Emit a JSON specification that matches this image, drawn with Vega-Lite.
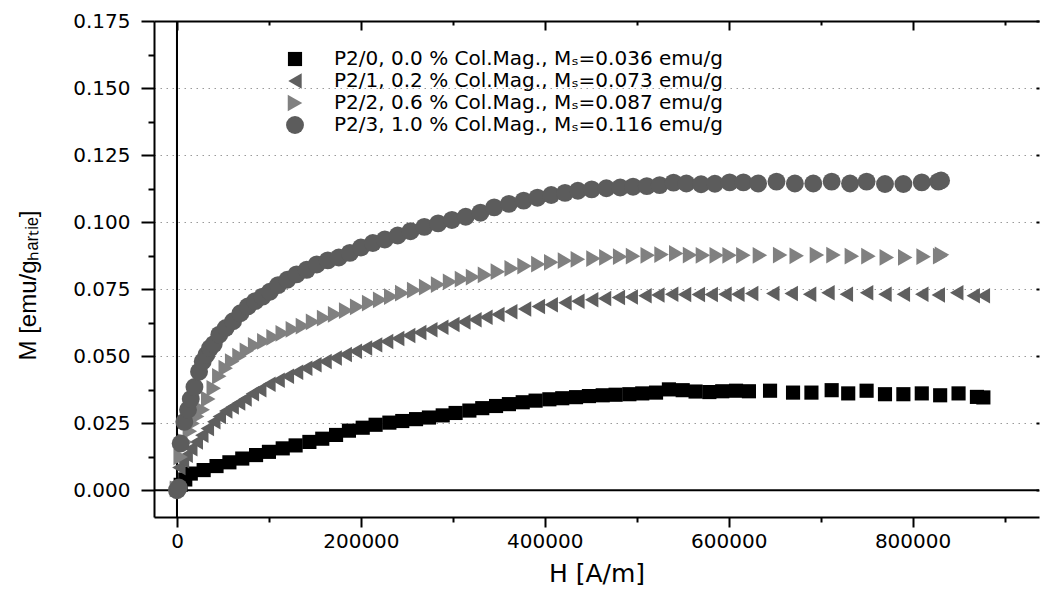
{
"$schema": "https://vega.github.io/schema/vega-lite/v6.json",
"width": 885, "height": 496,
"autosize": "none",
"padding": {"left": 154, "top": 21, "right": 1, "bottom": 73},
"background": "white",
"config": {
  "view": {"stroke": null},
  "axis": {"labelFont": "DejaVu Sans", "labelFontSize": 20, "labelColor": "black", "tickColor": "black", "tickWidth": 2, "domain": false, "domainColor": "black", "domainWidth": 2, "titleFont": "DejaVu Sans", "titleColor": "black", "titleFontWeight": "normal", "grid": false}
},
"data": {"values": [
{"s":"P2/0","H":0,"M":0.0005},{"s":"P2/0","H":4000,"M":0.002},{"s":"P2/0","H":9000,"M":0.004},{"s":"P2/0","H":15000,"M":0.0062},{"s":"P2/0","H":29000,"M":0.0075},{"s":"P2/0","H":43000,"M":0.009},{"s":"P2/0","H":57000,"M":0.0104},{"s":"P2/0","H":71000,"M":0.0118},{"s":"P2/0","H":86000,"M":0.0131},{"s":"P2/0","H":100000,"M":0.0143},{"s":"P2/0","H":115000,"M":0.0156},{"s":"P2/0","H":129000,"M":0.0167},{"s":"P2/0","H":144000,"M":0.018},{"s":"P2/0","H":158000,"M":0.0192},{"s":"P2/0","H":173000,"M":0.0206},{"s":"P2/0","H":187000,"M":0.0222},{"s":"P2/0","H":202000,"M":0.0233},{"s":"P2/0","H":216000,"M":0.0244},{"s":"P2/0","H":231000,"M":0.0252},{"s":"P2/0","H":245000,"M":0.0258},{"s":"P2/0","H":260000,"M":0.0265},{"s":"P2/0","H":274000,"M":0.0271},{"s":"P2/0","H":289000,"M":0.0279},{"s":"P2/0","H":303000,"M":0.0288},{"s":"P2/0","H":318000,"M":0.0297},{"s":"P2/0","H":332000,"M":0.0306},{"s":"P2/0","H":347000,"M":0.0314},{"s":"P2/0","H":361000,"M":0.0321},{"s":"P2/0","H":376000,"M":0.0328},{"s":"P2/0","H":390000,"M":0.0334},{"s":"P2/0","H":405000,"M":0.0339},{"s":"P2/0","H":419000,"M":0.0343},{"s":"P2/0","H":434000,"M":0.0347},{"s":"P2/0","H":448000,"M":0.0351},{"s":"P2/0","H":463000,"M":0.0354},{"s":"P2/0","H":477000,"M":0.0356},{"s":"P2/0","H":492000,"M":0.0358},{"s":"P2/0","H":506000,"M":0.0361},{"s":"P2/0","H":521000,"M":0.0364},{"s":"P2/0","H":535000,"M":0.0376},{"s":"P2/0","H":550000,"M":0.0373},{"s":"P2/0","H":564000,"M":0.0368},{"s":"P2/0","H":579000,"M":0.0366},{"s":"P2/0","H":593000,"M":0.0369},{"s":"P2/0","H":608000,"M":0.0371},{"s":"P2/0","H":622000,"M":0.0369},{"s":"P2/0","H":645000,"M":0.0371},{"s":"P2/0","H":670000,"M":0.0364},{"s":"P2/0","H":690000,"M":0.0364},{"s":"P2/0","H":712000,"M":0.0373},{"s":"P2/0","H":730000,"M":0.0361},{"s":"P2/0","H":750000,"M":0.0371},{"s":"P2/0","H":770000,"M":0.0358},{"s":"P2/0","H":790000,"M":0.0358},{"s":"P2/0","H":810000,"M":0.0361},{"s":"P2/0","H":830000,"M":0.0354},{"s":"P2/0","H":850000,"M":0.0361},{"s":"P2/0","H":870000,"M":0.0348},{"s":"P2/0","H":877000,"M":0.0346},
{"s":"P2/1","H":0,"M":0.0005},{"s":"P2/1","H":2000,"M":0.0085},{"s":"P2/1","H":6000,"M":0.011},{"s":"P2/1","H":10000,"M":0.013},{"s":"P2/1","H":15000,"M":0.0155},{"s":"P2/1","H":21000,"M":0.018},{"s":"P2/1","H":27000,"M":0.0205},{"s":"P2/1","H":33000,"M":0.023},{"s":"P2/1","H":40000,"M":0.0255},{"s":"P2/1","H":46000,"M":0.0275},{"s":"P2/1","H":53000,"M":0.0295},{"s":"P2/1","H":60000,"M":0.031},{"s":"P2/1","H":67000,"M":0.0325},{"s":"P2/1","H":74000,"M":0.034},{"s":"P2/1","H":82000,"M":0.036},{"s":"P2/1","H":90000,"M":0.0375},{"s":"P2/1","H":100000,"M":0.0395},{"s":"P2/1","H":110000,"M":0.041},{"s":"P2/1","H":120000,"M":0.0425},{"s":"P2/1","H":130000,"M":0.044},{"s":"P2/1","H":140000,"M":0.0455},{"s":"P2/1","H":150000,"M":0.0468},{"s":"P2/1","H":161000,"M":0.048},{"s":"P2/1","H":172000,"M":0.0493},{"s":"P2/1","H":183000,"M":0.0506},{"s":"P2/1","H":194000,"M":0.0518},{"s":"P2/1","H":205000,"M":0.053},{"s":"P2/1","H":216000,"M":0.0542},{"s":"P2/1","H":228000,"M":0.0555},{"s":"P2/1","H":240000,"M":0.0566},{"s":"P2/1","H":252000,"M":0.0577},{"s":"P2/1","H":264000,"M":0.0588},{"s":"P2/1","H":276000,"M":0.0598},{"s":"P2/1","H":288000,"M":0.0608},{"s":"P2/1","H":300000,"M":0.0618},{"s":"P2/1","H":312000,"M":0.0627},{"s":"P2/1","H":324000,"M":0.0636},{"s":"P2/1","H":336000,"M":0.0645},{"s":"P2/1","H":349000,"M":0.0655},{"s":"P2/1","H":363000,"M":0.0666},{"s":"P2/1","H":378000,"M":0.0676},{"s":"P2/1","H":393000,"M":0.0685},{"s":"P2/1","H":407000,"M":0.0692},{"s":"P2/1","H":422000,"M":0.0699},{"s":"P2/1","H":436000,"M":0.0705},{"s":"P2/1","H":451000,"M":0.071},{"s":"P2/1","H":465000,"M":0.0715},{"s":"P2/1","H":480000,"M":0.0719},{"s":"P2/1","H":494000,"M":0.0721},{"s":"P2/1","H":509000,"M":0.0725},{"s":"P2/1","H":523000,"M":0.0728},{"s":"P2/1","H":538000,"M":0.0731},{"s":"P2/1","H":552000,"M":0.073},{"s":"P2/1","H":567000,"M":0.073},{"s":"P2/1","H":581000,"M":0.073},{"s":"P2/1","H":596000,"M":0.0731},{"s":"P2/1","H":610000,"M":0.0731},{"s":"P2/1","H":625000,"M":0.0734},{"s":"P2/1","H":648000,"M":0.0734},{"s":"P2/1","H":668000,"M":0.0734},{"s":"P2/1","H":688000,"M":0.0731},{"s":"P2/1","H":708000,"M":0.0736},{"s":"P2/1","H":728000,"M":0.0731},{"s":"P2/1","H":750000,"M":0.0736},{"s":"P2/1","H":770000,"M":0.0731},{"s":"P2/1","H":790000,"M":0.0731},{"s":"P2/1","H":810000,"M":0.0731},{"s":"P2/1","H":828000,"M":0.0728},{"s":"P2/1","H":848000,"M":0.0736},{"s":"P2/1","H":866000,"M":0.0725},{"s":"P2/1","H":877000,"M":0.0725},
{"s":"P2/2","H":0,"M":0.0005},{"s":"P2/2","H":4000,"M":0.0124},{"s":"P2/2","H":9000,"M":0.018},{"s":"P2/2","H":14000,"M":0.022},{"s":"P2/2","H":17000,"M":0.0249},{"s":"P2/2","H":22000,"M":0.0275},{"s":"P2/2","H":28000,"M":0.03},{"s":"P2/2","H":34000,"M":0.034},{"s":"P2/2","H":40000,"M":0.038},{"s":"P2/2","H":46000,"M":0.0425},{"s":"P2/2","H":53000,"M":0.0455},{"s":"P2/2","H":60000,"M":0.048},{"s":"P2/2","H":68000,"M":0.05},{"s":"P2/2","H":76000,"M":0.052},{"s":"P2/2","H":85000,"M":0.054},{"s":"P2/2","H":95000,"M":0.0555},{"s":"P2/2","H":105000,"M":0.057},{"s":"P2/2","H":115000,"M":0.0585},{"s":"P2/2","H":126000,"M":0.06},{"s":"P2/2","H":137000,"M":0.0612},{"s":"P2/2","H":148000,"M":0.0628},{"s":"P2/2","H":160000,"M":0.0642},{"s":"P2/2","H":172000,"M":0.0656},{"s":"P2/2","H":184000,"M":0.067},{"s":"P2/2","H":196000,"M":0.0684},{"s":"P2/2","H":209000,"M":0.0698},{"s":"P2/2","H":221000,"M":0.071},{"s":"P2/2","H":233000,"M":0.0722},{"s":"P2/2","H":245000,"M":0.0735},{"s":"P2/2","H":258000,"M":0.0746},{"s":"P2/2","H":271000,"M":0.0757},{"s":"P2/2","H":284000,"M":0.0767},{"s":"P2/2","H":297000,"M":0.0777},{"s":"P2/2","H":310000,"M":0.0787},{"s":"P2/2","H":322000,"M":0.0795},{"s":"P2/2","H":335000,"M":0.0803},{"s":"P2/2","H":349000,"M":0.0815},{"s":"P2/2","H":364000,"M":0.0827},{"s":"P2/2","H":378000,"M":0.0836},{"s":"P2/2","H":393000,"M":0.0843},{"s":"P2/2","H":407000,"M":0.085},{"s":"P2/2","H":422000,"M":0.0856},{"s":"P2/2","H":436000,"M":0.0861},{"s":"P2/2","H":453000,"M":0.0864},{"s":"P2/2","H":467000,"M":0.0868},{"s":"P2/2","H":482000,"M":0.0871},{"s":"P2/2","H":496000,"M":0.0873},{"s":"P2/2","H":512000,"M":0.0876},{"s":"P2/2","H":527000,"M":0.0879},{"s":"P2/2","H":543000,"M":0.0883},{"s":"P2/2","H":558000,"M":0.0877},{"s":"P2/2","H":572000,"M":0.0876},{"s":"P2/2","H":587000,"M":0.0876},{"s":"P2/2","H":601000,"M":0.0876},{"s":"P2/2","H":616000,"M":0.0876},{"s":"P2/2","H":634000,"M":0.0876},{"s":"P2/2","H":656000,"M":0.0877},{"s":"P2/2","H":674000,"M":0.0874},{"s":"P2/2","H":696000,"M":0.0877},{"s":"P2/2","H":714000,"M":0.0877},{"s":"P2/2","H":734000,"M":0.0873},{"s":"P2/2","H":752000,"M":0.0873},{"s":"P2/2","H":772000,"M":0.0868},{"s":"P2/2","H":792000,"M":0.0868},{"s":"P2/2","H":812000,"M":0.0871},{"s":"P2/2","H":830000,"M":0.0873},{"s":"P2/2","H":832000,"M":0.0878},
{"s":"P2/3","H":0,"M":0.0},{"s":"P2/3","H":2000,"M":0.001},{"s":"P2/3","H":4000,"M":0.0174},{"s":"P2/3","H":8000,"M":0.0255},{"s":"P2/3","H":12000,"M":0.03},{"s":"P2/3","H":15000,"M":0.034},{"s":"P2/3","H":19000,"M":0.0385},{"s":"P2/3","H":24000,"M":0.0442},{"s":"P2/3","H":28000,"M":0.048},{"s":"P2/3","H":32000,"M":0.0505},{"s":"P2/3","H":36000,"M":0.053},{"s":"P2/3","H":40000,"M":0.0545},{"s":"P2/3","H":46000,"M":0.058},{"s":"P2/3","H":53000,"M":0.0605},{"s":"P2/3","H":61000,"M":0.063},{"s":"P2/3","H":69000,"M":0.066},{"s":"P2/3","H":77000,"M":0.0685},{"s":"P2/3","H":85000,"M":0.0705},{"s":"P2/3","H":93000,"M":0.0722},{"s":"P2/3","H":101000,"M":0.074},{"s":"P2/3","H":110000,"M":0.0765},{"s":"P2/3","H":120000,"M":0.0785},{"s":"P2/3","H":130000,"M":0.0805},{"s":"P2/3","H":141000,"M":0.0822},{"s":"P2/3","H":152000,"M":0.0842},{"s":"P2/3","H":164000,"M":0.0857},{"s":"P2/3","H":176000,"M":0.0868},{"s":"P2/3","H":188000,"M":0.0885},{"s":"P2/3","H":200000,"M":0.0905},{"s":"P2/3","H":213000,"M":0.0922},{"s":"P2/3","H":226000,"M":0.0935},{"s":"P2/3","H":240000,"M":0.095},{"s":"P2/3","H":254000,"M":0.0966},{"s":"P2/3","H":269000,"M":0.0982},{"s":"P2/3","H":284000,"M":0.0995},{"s":"P2/3","H":299000,"M":0.1008},{"s":"P2/3","H":314000,"M":0.102},{"s":"P2/3","H":330000,"M":0.1035},{"s":"P2/3","H":345000,"M":0.1055},{"s":"P2/3","H":361000,"M":0.1068},{"s":"P2/3","H":377000,"M":0.108},{"s":"P2/3","H":392000,"M":0.1091},{"s":"P2/3","H":407000,"M":0.1101},{"s":"P2/3","H":422000,"M":0.1109},{"s":"P2/3","H":436000,"M":0.1117},{"s":"P2/3","H":451000,"M":0.1122},{"s":"P2/3","H":467000,"M":0.1126},{"s":"P2/3","H":482000,"M":0.1129},{"s":"P2/3","H":496000,"M":0.1132},{"s":"P2/3","H":511000,"M":0.1134},{"s":"P2/3","H":525000,"M":0.1138},{"s":"P2/3","H":540000,"M":0.1147},{"s":"P2/3","H":554000,"M":0.1144},{"s":"P2/3","H":570000,"M":0.1141},{"s":"P2/3","H":585000,"M":0.1143},{"s":"P2/3","H":601000,"M":0.1148},{"s":"P2/3","H":616000,"M":0.1148},{"s":"P2/3","H":632000,"M":0.1144},{"s":"P2/3","H":652000,"M":0.1151},{"s":"P2/3","H":672000,"M":0.1144},{"s":"P2/3","H":692000,"M":0.1144},{"s":"P2/3","H":712000,"M":0.1151},{"s":"P2/3","H":732000,"M":0.1144},{"s":"P2/3","H":750000,"M":0.1151},{"s":"P2/3","H":770000,"M":0.1142},{"s":"P2/3","H":790000,"M":0.1142},{"s":"P2/3","H":810000,"M":0.1148},{"s":"P2/3","H":828000,"M":0.1151},{"s":"P2/3","H":831000,"M":0.1155}
]},
"resolve": {"scale": {"x": "shared", "y": "shared"}, "axis": {"x": "independent", "y": "independent"}},
"layer": [
 {
  "data": {"values": [{"a": 1}]},
  "mark": {"type": "rule", "color": "black", "strokeWidth": 2},
  "encoding": {
   "x": {"datum": 0, "type": "quantitative", "scale": {"domain": [-25000, 937500], "nice": false, "zero": false},
         "axis": {"orient": "bottom", "values": [0, 200000, 400000, 600000, 800000], "format": "d", "tickSize": 10, "labelPadding": 4, "domain": true, "title": "H [A/m]", "titleFontSize": 25, "titlePadding": 10}},
   "y": {"datum": -0.01, "type": "quantitative", "scale": {"domain": [-0.01, 0.175], "nice": false, "zero": false},
         "axis": {"orient": "left", "values": [0, 0.025, 0.05, 0.075, 0.1, 0.125, 0.15, 0.175], "format": ".3f", "tickSize": 13, "labelPadding": 11, "domain": true, "grid": true, "gridColor": "#9a9a9a", "gridWidth": 1, "gridDash": [1.5, 4.5], "title": "M [emu/gₕₐᵣₜᵢₑ]", "titleFont": "Liberation Sans", "titleFontSize": 24, "titleX": -114, "titleY": 264}},
   "y2": {"datum": 0.175}
  }
 },
 {
  "data": {"values": [{"a": 1}]},
  "mark": {"type": "rule", "color": "black", "strokeWidth": 2},
  "encoding": {
   "y": {"datum": 0, "type": "quantitative", "scale": {"domain": [-0.01, 0.175], "nice": false, "zero": false},
         "axis": {"orient": "left", "values": [0.0125, 0.0375, 0.0625, 0.0875, 0.1125, 0.1375, 0.1625], "tickSize": 6, "labels": false, "title": null}},
   "x": {"datum": -25000, "type": "quantitative", "scale": {"domain": [-25000, 937500], "nice": false, "zero": false},
         "axis": {"orient": "bottom", "values": [100000, 300000, 500000, 700000, 900000], "tickSize": 5, "labels": false, "title": null}},
   "x2": {"datum": 937500}
  }
 },
 {
  "data": {"values": [{"a": 1}]},
  "mark": {"type": "rule", "color": "black", "strokeWidth": 2},
  "encoding": {
   "x": {"datum": 0, "type": "quantitative", "scale": {"domain": [-25000, 937500], "nice": false, "zero": false},
         "axis": {"orient": "top", "values": [100000, 300000, 500000, 700000, 900000], "tickSize": -4, "labels": false, "title": null}},
   "y": {"datum": -0.01, "type": "quantitative", "scale": {"domain": [-0.01, 0.175], "nice": false, "zero": false}, "axis": null},
   "y2": {"datum": 0.175}
  }
 },
 {
  "mark": {"type": "point", "filled": true, "opacity": 1},
  "encoding": {
   "x": {"field": "H", "type": "quantitative", "scale": {"domain": [-25000, 937500], "nice": false, "zero": false},
         "axis": {"orient": "top", "values": [0, 200000, 400000, 600000, 800000], "tickSize": -9, "labels": false, "domain": true, "title": null}},
   "y": {"field": "M", "type": "quantitative", "scale": {"domain": [-0.01, 0.175], "nice": false, "zero": false},
         "axis": {"orient": "right", "values": [0, 0.025, 0.05, 0.075, 0.1, 0.125, 0.15, 0.175], "tickSize": -3, "labels": false, "title": null}},
   "color": {"field": "s", "type": "nominal",
     "scale": {"domain": ["P2/0", "P2/1", "P2/2", "P2/3"], "range": ["#000000", "#5f5f5f", "#808080", "#5c5c5c"]},
     "legend": {"orient": "none", "legendX": 131, "legendY": 28, "title": null, "padding": 0, "labelFont": "DejaVu Sans", "labelFontSize": 20, "labelColor": "black", "labelLimit": 700, "symbolSize": 170, "rowPadding": 2, "labelOffset": 29,
       "labelExpr": "datum.label == 'P2/0' ? 'P2/0, 0.0 % Col.Mag., Mₛ=0.036 emu/g' : datum.label == 'P2/1' ? 'P2/1, 0.2 % Col.Mag., Mₛ=0.073 emu/g' : datum.label == 'P2/2' ? 'P2/2, 0.6 % Col.Mag., Mₛ=0.087 emu/g' : 'P2/3, 1.0 % Col.Mag., Mₛ=0.116 emu/g'"}},
   "shape": {"field": "s", "type": "nominal",
     "scale": {"domain": ["P2/0", "P2/1", "P2/2", "P2/3"], "range": ["square", "triangle-left", "triangle-right", "circle"]}},
   "size": {"field": "s", "type": "nominal", "legend": null,
     "scale": {"domain": ["P2/0", "P2/1", "P2/2", "P2/3"], "range": [200, 320, 320, 220]}}
  }
 }
]
}
